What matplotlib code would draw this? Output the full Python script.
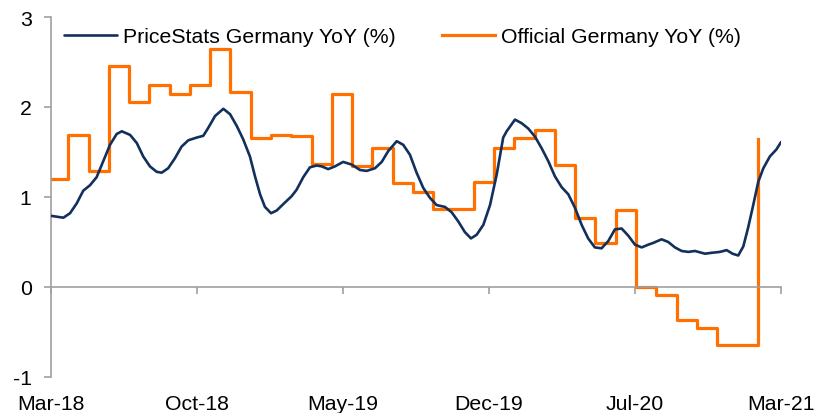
import numpy as np
import matplotlib
matplotlib.use("Agg")
import matplotlib.pyplot as plt

plt.rcParams['font.family'] = ['Liberation Sans', 'DejaVu Sans']
plt.rcParams['axes.unicode_minus'] = False

# x positions are months since Mar-18
pricestats_month = [0.03, 0.61, 0.94, 1.27, 1.59, 1.92, 2.25, 2.58, 2.91, 3.24, 3.49, 3.90,
                    4.23, 4.55, 4.88, 5.21, 5.46, 5.78, 6.11, 6.44, 6.77, 7.18, 7.51, 7.76,
                    8.09, 8.50, 8.83, 9.16, 9.48, 9.81, 10.06, 10.31, 10.55, 10.85, 11.13, 11.45,
                    11.87, 12.11, 12.44, 12.77, 13.10, 13.35, 13.67, 14.00, 14.41, 14.83, 15.24, 15.57,
                    15.98, 16.31, 16.63, 17.05, 17.37, 17.70, 18.03, 18.36, 18.69, 19.02, 19.43, 19.76,
                    20.08, 20.41, 20.71, 20.99, 21.32, 21.65, 21.98, 22.30, 22.47, 22.88, 23.21, 23.54,
                    23.87, 24.20, 24.52, 24.85, 25.18, 25.51, 25.84, 26.17, 26.49, 26.82, 27.15, 27.48,
                    27.81, 28.14, 28.47, 28.80, 29.13, 29.45, 29.70, 30.11, 30.44, 30.77, 31.10, 31.43,
                    31.76, 32.25, 32.58, 32.99, 33.32, 33.61, 33.89, 34.14, 34.38, 34.63, 34.88, 35.13,
                    35.45, 35.78, 36.00]
pricestats_yoy = [0.79, 0.77, 0.82, 0.93, 1.07, 1.13, 1.22, 1.40, 1.58, 1.70, 1.73, 1.69,
                  1.60, 1.45, 1.34, 1.28, 1.27, 1.32, 1.43, 1.56, 1.63, 1.66, 1.68, 1.77,
                  1.90, 1.98, 1.92, 1.79, 1.64, 1.45, 1.23, 1.03, 0.89, 0.82, 0.85, 0.92,
                  1.01, 1.08, 1.22, 1.33, 1.35, 1.34, 1.31, 1.34, 1.39, 1.36, 1.30, 1.29,
                  1.32, 1.39, 1.51, 1.62, 1.58, 1.47, 1.27, 1.10, 0.99, 0.91, 0.89, 0.83,
                  0.73, 0.61, 0.54, 0.58, 0.69, 0.91, 1.25, 1.66, 1.73, 1.86, 1.82, 1.76,
                  1.67, 1.54, 1.40, 1.23, 1.11, 1.03, 0.88, 0.69, 0.54, 0.44, 0.43, 0.51,
                  0.64, 0.65, 0.57, 0.47, 0.44, 0.47, 0.49, 0.53, 0.50, 0.44, 0.40, 0.39,
                  0.40, 0.37, 0.38, 0.39, 0.41, 0.37, 0.35, 0.45, 0.66, 0.91, 1.17, 1.32,
                  1.45, 1.53, 1.61]

# official monthly figures, each one switched on at its release point
official_release = [0.0] + [k + 0.85 for k in range(35)]
official_yoy = [1.20, 1.69, 1.29, 2.46, 2.06, 2.25, 2.14, 2.24, 2.64, 2.17, 1.66, 1.69,
                1.68, 1.37, 2.14, 1.35, 1.54, 1.16, 1.06, 0.87, 0.87, 1.17, 1.54, 1.66,
                1.74, 1.36, 0.77, 0.49, 0.86, 0.00, -0.09, -0.37, -0.46, -0.64, -0.64, 1.64]

tick_labels = ['Mar-18', 'Oct-18', 'May-19', 'Dec-19', 'Jul-20', 'Mar-21']

navy = '#13305C'
orange = '#FF7000'
grey = '#A0A0A0'
fs = 15.3

fig = plt.figure(figsize=(8.15, 4.14), dpi=100)
ax = fig.add_axes([51 / 815, 1 - 378 / 414, (781 - 51) / 815, 360 / 414])

ax.plot(pricestats_month, pricestats_yoy, color=navy, lw=1.9,
        label='PriceStats Germany YoY (%)', solid_capstyle='round', zorder=3)
ax.step(official_release, official_yoy, where='post', color=orange, lw=2.3,
        label='Official Germany YoY (%)', zorder=2)

ax.set_xlim(0, 36)
ax.set_ylim(-1, 3)
ax.set_yticks([-1, 0, 1, 2, 3])
ax.set_xticks(np.linspace(0, 36, 6))
ax.set_xticklabels(tick_labels)

for s in ['top', 'right']:
    ax.spines[s].set_visible(False)
ax.spines['left'].set_color(grey)
ax.spines['left'].set_linewidth(1.2)
ax.spines['bottom'].set_position(('data', 0))
ax.spines['bottom'].set_color(grey)
ax.spines['bottom'].set_linewidth(1.2)

ax.tick_params(axis='y', direction='out', length=5, width=1.2, color=grey,
               labelsize=fs, pad=9)
ax.tick_params(axis='x', direction='out', length=5, width=1.2, color=grey,
               labelsize=fs, pad=72)

leg = ax.legend(loc='upper left', bbox_to_anchor=(-0.008, 1.025), ncol=2, frameon=False,
                fontsize=fs, handlelength=2.5, handletextpad=0.25, columnspacing=2.2)

fig.savefig('out.png', dpi=100)
